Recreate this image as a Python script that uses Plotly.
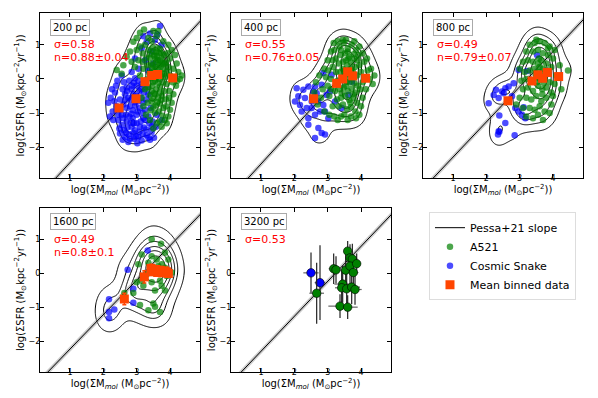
import numpy as np
import plotly.graph_objects as go

# ---- panel labels / fit results -------------------------------------------
res_labels = ["200 pc", "400 pc", "800 pc", "1600 pc", "3200 pc"]
sigma_labels = ["σ=0.58", "σ=0.55", "σ=0.49", "σ=0.49", "σ=0.53"]
n_labels = ["n=0.88±0.04", "n=0.76±0.05", "n=0.79±0.07", "n=0.8±0.1", None]

# Pessa+21 relation as drawn in each panel
pessa_slope = [1.06, 1.07, 1.03, 1.015, 1.03]
pessa_intercept = [-3.51, -3.56, -3.32, -3.24, -3.32]
pessa_band = 0.08

# ---- 200 pc ---------------------------------------------------------------
snake_200 = [
    (2.62, -0.10), (2.70, -0.25), (2.78, -0.05), (2.85, -0.30), (2.92, -0.12), (3.00, -0.20),
    (3.08, -0.35), (3.15, -0.15), (3.22, -0.40), (2.65, -0.45), (2.75, -0.55), (2.83, -0.62),
    (2.90, -0.45), (2.98, -0.50), (3.05, -0.65), (3.12, -0.55), (3.20, -0.70), (3.28, -0.60),
    (2.60, -0.75), (2.70, -0.85), (2.80, -0.80), (2.88, -0.92), (2.96, -0.78), (3.03, -0.95),
    (3.10, -0.85), (3.18, -1.00), (3.25, -0.90), (2.68, -1.05), (2.78, -1.10), (2.86, -0.20),
    (2.95, 0.02), (3.05, -0.05), (2.72, -0.35), (2.94, -0.68), (3.14, -0.30), (3.00, -1.05),
    (2.58, -0.30), (2.84, -1.02), (3.30, -0.25), (2.66, -0.62),
    (2.45, -1.20), (2.55, -1.35), (2.62, -1.50), (2.70, -1.25), (2.78, -1.62), (2.85, -1.40),
    (2.92, -1.75), (3.00, -1.30), (3.08, -1.55), (3.15, -1.80), (3.22, -1.42), (3.30, -1.65),
    (3.38, -1.30), (3.45, -1.55), (3.52, -1.72), (2.50, -1.60), (2.58, -1.78), (2.75, -1.85),
    (2.95, -1.50), (3.05, -1.70), (3.25, -1.20), (3.40, -1.78), (3.58, -1.40), (2.88, -1.15),
    (3.12, -1.25), (2.66, -1.70), (3.35, -1.10), (3.48, -1.25), (3.02, -1.88), (2.48, -1.45),
    (2.60, -1.15), (2.72, -1.42), (2.82, -1.28), (2.90, -1.58), (2.98, -1.68), (3.10, -1.40),
    (3.18, -1.62), (3.28, -1.48), (3.35, -1.72), (2.68, -1.58), (2.55, -1.05), (3.20, -1.15),
    (2.92, -1.30), (3.45, -1.40), (2.80, -1.75),
    (2.15, -0.70), (2.22, -0.55), (2.28, -0.95), (2.35, -0.40), (2.40, -0.80), (2.45, -1.05),
    (2.30, -1.20), (2.20, -1.10), (2.50, -0.60), (2.38, -0.20), (2.52, -0.90), (2.26, -0.30),
    (2.42, -0.05), (2.55, 0.10), (2.33, -0.65),
    (3.40, 1.33), (3.70, 1.55), (3.30, 1.09), (3.55, 1.14), (3.15, 0.90), (2.95, 0.60),
    (3.25, 0.55), (3.45, 0.80), (3.62, 1.30), (3.05, 0.30), (3.35, 0.25), (2.85, 0.20),
    (3.50, 0.45), (3.20, 1.25), (3.75, 1.00),
    (3.42, -0.85), (3.60, -1.05), (3.35, -0.45), (3.75, -1.20),
]
a521_200 = [
    (3.36, 0.85), (3.48, 0.92), (3.58, 0.78), (3.70, 0.88), (3.82, 0.70), (3.40, 0.62),
    (3.52, 0.68), (3.63, 0.55), (3.75, 0.60), (3.88, 0.48), (3.33, 0.40), (3.45, 0.45),
    (3.57, 0.35), (3.68, 0.42), (3.80, 0.30), (3.92, 0.22), (3.38, 0.18), (3.50, 0.22),
    (3.61, 0.15), (3.72, 0.20), (3.85, 0.05), (3.30, -0.02), (3.43, 0.02), (3.55, -0.05),
    (3.66, 0.00), (3.78, -0.10), (3.90, -0.15), (3.35, -0.25), (3.47, -0.20), (3.59, -0.30),
    (3.70, -0.22), (3.82, -0.35), (3.40, -0.48), (3.52, -0.42), (3.64, -0.55), (3.76, -0.50),
    (3.88, -0.60), (3.33, -0.70), (3.45, -0.65), (3.57, -0.78), (3.69, -0.72), (3.80, -0.85),
    (3.42, -0.92), (3.55, -1.00), (3.67, -0.95), (3.78, -1.08), (3.60, 0.68), (3.47, 0.30),
    (3.73, 0.38), (3.64, -0.12), (3.53, 0.10), (3.70, -0.40), (3.45, -0.35), (3.58, 0.50),
    (3.85, 0.45), (3.62, 0.30), (3.50, -0.58), (3.75, 0.08), (3.40, 0.72), (3.68, 0.75),
    (3.50, 0.80), (3.62, 0.90), (3.74, 0.75), (3.56, 0.60), (3.70, 0.55), (3.48, 0.40),
    (3.78, 0.45), (3.60, 0.05), (3.70, 0.12), (3.48, -0.10), (3.82, 0.15), (3.56, -0.45),
    (3.62, -0.68), (3.74, -0.62), (3.50, -0.82),
    (2.40, 0.26), (2.60, 0.40), (2.80, 0.80), (2.90, 1.09), (3.00, 1.20), (3.10, 1.35),
    (3.22, 1.45), (3.35, 1.20), (3.50, 1.40), (3.60, 1.25), (3.80, 1.10), (3.95, 1.00),
    (4.05, 0.85), (4.15, 0.70), (4.20, 0.45), (4.25, 0.20), (4.30, 0.00), (4.18, -0.20),
    (4.10, -0.45), (4.05, -0.70), (4.00, -0.90), (3.95, -1.10), (3.90, -1.30), (3.75, -1.40),
    (3.60, -1.30), (3.50, -1.45), (3.40, -1.20), (3.28, -1.05), (3.20, -0.80), (3.15, -0.55),
    (3.10, 0.10), (3.05, 0.55), (3.18, 0.75), (3.25, 1.00), (2.70, 0.65), (2.95, 0.35),
    (3.00, 0.85), (4.00, 0.60), (4.10, 0.30), (4.00, 0.10), (4.08, -0.10), (3.98, -0.35),
    (3.95, 0.35), (3.92, 0.75), (3.88, -0.80), (3.85, -1.20), (3.20, 0.30), (3.25, -0.30),
    (3.18, 0.50), (4.22, -0.05), (4.35, 0.10), (3.65, 1.40), (3.45, 1.10), (3.28, 0.60),
    (2.85, 0.50), (3.10, 0.95), (4.12, 0.05), (3.98, -0.55), (3.70, -1.25), (2.55, 0.15),
]
mean_200 = [(2.47, -0.85), (2.98, -0.58), (3.25, -0.08), (3.45, 0.10), (3.63, 0.13), (4.08, 0.03)]
mean_200_err = [0.05, 0.04, 0.03, 0.03, 0.03, 0.05]

# ---- 400 pc ---------------------------------------------------------------
snake_400 = [
    (2.07, -0.27), (2.12, -0.51), (2.27, -0.32), (2.42, -0.22), (2.52, -0.66), (2.37, -0.85),
    (2.22, -0.95), (2.42, -1.15), (2.62, -1.05), (2.77, -0.95), (2.87, -0.76), (2.72, -1.44),
    (2.82, -1.58), (2.62, -1.73), (2.92, -1.63), (3.02, -1.15), (2.97, -0.47), (2.82, -0.17),
    (2.67, -0.42), (2.32, -0.56), (2.57, -0.37), (2.87, 0.17), (3.12, 0.12), (3.22, -0.66),
    (3.42, -0.85), (3.62, -0.47), (3.72, -0.08), (2.42, -1.34), (2.72, -0.66), (2.92, -0.95),
    (2.17, -0.76), (2.02, -0.66), (2.52, -0.85), (3.07, -0.37), (2.62, -0.22),
]
a521_400 = [
    (3.35, 0.95), (3.48, 1.05), (3.60, 0.90), (3.72, 1.00), (3.85, 0.85), (3.40, 0.70),
    (3.52, 0.75), (3.65, 0.65), (3.78, 0.72), (3.90, 0.55), (3.33, 0.45), (3.46, 0.50),
    (3.58, 0.40), (3.70, 0.48), (3.82, 0.35), (3.38, 0.20), (3.50, 0.25), (3.63, 0.15),
    (3.75, 0.22), (3.88, 0.10), (3.30, -0.05), (3.43, 0.00), (3.56, -0.08), (3.68, 0.02),
    (3.80, -0.12), (3.36, -0.30), (3.48, -0.25), (3.60, -0.35), (3.72, -0.28), (3.85, -0.40),
    (3.40, -0.55), (3.53, -0.50), (3.65, -0.62), (3.78, -0.55), (3.33, -0.80), (3.46, -0.75),
    (3.58, -0.88), (3.70, -0.82), (3.83, -0.95), (3.50, -1.05), (3.62, 0.60), (3.45, 0.30),
    (3.70, 0.30), (3.55, -0.20), (3.65, -0.10), (3.52, 0.10), (3.75, -0.45), (3.42, -0.42),
    (3.60, 0.80), (3.80, 0.60), (3.40, 0.85), (3.68, -0.70), (3.55, 0.55), (3.90, -0.20),
    (3.25, 0.20),
    (2.65, -0.10), (2.75, 0.10), (2.85, -0.30), (2.90, 0.30), (3.00, 0.55), (3.05, -0.50),
    (3.10, 0.80), (3.15, -0.80), (3.18, 1.05), (3.20, -1.10), (3.25, 0.60), (3.28, -0.60),
    (3.10, 0.00), (3.00, -0.20), (3.15, 0.35), (3.95, 0.95), (4.05, 0.75), (4.10, 0.50),
    (4.20, 0.25), (4.25, 0.00), (4.35, -0.15), (4.15, -0.30), (4.05, -0.55), (4.00, -0.80),
    (3.95, -1.05), (3.85, -1.15), (3.70, -1.10), (3.60, -1.20), (3.40, -1.10), (3.30, -1.20),
    (4.00, 0.20), (4.10, 0.05), (3.98, -0.30), (3.95, 0.40), (4.30, 0.30), (4.40, 0.10),
    (3.92, 0.70), (3.80, 1.10), (3.55, 1.15), (3.45, 1.15), (3.30, 1.10), (3.20, 0.85),
    (2.95, 0.05), (2.80, -0.55), (2.70, -0.75), (2.90, -0.95), (3.05, -1.05), (2.60, -0.40),
    (3.10, -0.30), (3.22, -0.35), (3.15, 0.55), (4.05, -0.10), (4.18, 0.60), (3.88, -0.70),
    (3.02, 0.25),
]
mean_400 = [(2.58, -0.58), (3.27, -0.13), (3.45, 0.00), (3.60, 0.21), (3.75, 0.09), (4.14, 0.02)]
mean_400_err = [0.06, 0.04, 0.03, 0.03, 0.03, 0.05]

# ---- 800 pc ---------------------------------------------------------------
snake_800 = [
    (2.97, 0.26), (3.22, 0.23), (3.52, 0.70), (2.82, -0.13), (2.67, -0.22), (2.57, -0.27),
    (2.47, -0.37), (2.29, -0.32), (2.22, -0.47), (2.37, -0.56), (2.52, -0.42), (2.07, -0.71),
    (2.77, -0.51), (2.87, -0.85), (2.97, -0.95), (3.07, -1.05), (3.17, -1.15), (2.39, -1.07),
    (2.57, -1.29), (2.37, -1.53), (2.35, -1.63), (2.39, -1.55), (2.85, -1.65), (3.12, -0.83),
]
a521_800 = [
    (3.30, 1.00), (3.45, 1.05), (3.60, 1.10), (3.75, 1.05), (3.90, 0.95), (4.05, 0.85),
    (3.20, 0.80), (3.40, 0.80), (3.55, 0.85), (3.70, 0.75), (3.85, 0.70), (4.00, 0.60),
    (4.20, 0.40), (4.45, 0.25), (3.10, 0.50), (3.25, 0.55), (3.40, 0.50), (3.55, 0.45),
    (3.65, 0.55), (3.80, 0.45), (3.95, 0.35), (3.15, 0.20), (3.30, 0.25), (3.45, 0.30),
    (3.58, 0.20), (3.70, 0.30), (3.85, 0.15), (4.10, 0.10), (3.05, -0.05), (3.20, 0.00),
    (3.35, -0.05), (3.50, 0.05), (3.62, -0.02), (3.75, 0.08), (3.90, -0.10), (4.05, -0.15),
    (3.10, -0.30), (3.25, -0.25), (3.40, -0.35), (3.55, -0.20), (3.68, -0.30), (3.80, -0.25),
    (3.95, -0.40), (3.00, -0.55), (3.20, -0.55), (3.35, -0.60), (3.50, -0.50), (3.65, -0.65),
    (3.80, -0.55), (3.95, -0.75), (3.10, -0.85), (3.30, -0.85), (3.45, -0.90), (3.60, -0.80),
    (3.75, -0.95), (3.90, -1.00), (3.20, -1.10), (3.40, -1.15), (3.55, -1.05), (3.70, -1.20),
    (2.90, -0.75), (3.60, 0.35), (3.66, 0.15), (3.52, -0.10), (3.72, -0.12), (3.62, 0.02),
    (3.78, 0.25), (3.48, 0.15), (3.68, -0.45), (3.58, 0.60), (4.25, -0.30), (4.00, -0.50),
    (3.00, 0.30), (3.85, 0.90), (3.50, 1.15),
]
mean_800 = [(2.65, -0.64), (3.37, -0.06), (3.55, 0.12), (3.69, 0.02), (3.83, 0.19), (4.17, 0.07)]
mean_800_err = [0.08, 0.05, 0.04, 0.04, 0.04, 0.05]

# ---- 1600 pc --------------------------------------------------------------
snake_1600 = [
    (2.73, 0.11), (3.33, 0.68), (2.90, -0.45), (2.17, -0.76), (2.17, -1.13), (2.33, -1.06),
    (2.17, -1.32), (2.90, -0.86),
]
a521_1600 = [
    (3.45, 1.01), (3.73, 0.88), (3.15, 0.56), (3.45, 0.51), (3.85, 0.61), (3.60, 0.41),
    (3.95, 0.41), (3.35, 0.32), (3.75, 0.27), (3.05, 0.27), (3.85, 0.17), (3.55, 0.08),
    (3.30, -0.02), (4.05, 0.03), (3.15, -0.21), (3.45, -0.26), (3.75, -0.36), (3.00, -0.26),
    (3.85, -0.50), (3.55, -0.50), (3.10, -0.93), (3.50, -0.88), (3.35, -1.08), (3.70, -1.13),
    (3.55, -0.98), (2.90, -0.57), (2.63, -0.57), (3.90, -0.07), (3.70, -0.21), (3.20, -0.36),
    (3.40, 0.17), (3.65, 0.22),
]
mean_1600 = [
    (2.63, -0.75), (3.23, -0.10), (3.43, 0.15), (3.50, 0.05), (3.57, 0.12), (3.63, 0.03),
    (3.70, 0.10), (3.77, 0.02), (3.83, 0.08), (3.90, 0.05), (3.95, 0.00),
]
mean_1600_err = [0.17, 0.18, 0.12, 0.1, 0.1, 0.1, 0.1, 0.1, 0.1, 0.1, 0.1]

# ---- 3200 pc --------------------------------------------------------------
snake_3200 = [(2.50, 0.02), (2.77, -0.27)]
snake_3200_xerr = [0.23, 0.16]
snake_3200_yerr = [0.60, 1.10]
a521_3200 = [
    (2.67, -0.58), (3.18, 0.14), (3.25, 0.11), (3.54, 0.10), (3.60, 0.66), (3.67, 0.46),
    (3.74, 0.43), (3.67, 0.22), (3.77, 0.03), (3.87, 0.29), (3.45, -0.31), (3.42, -0.42),
    (3.57, -0.45), (3.72, -0.40), (3.82, -0.47), (3.37, -0.96), (3.60, -0.99),
]
a521_3200_xerr = [0.22, 0.15, 0.12, 0.20, 0.10, 0.12, 0.15, 0.18, 0.15, 0.12, 0.25, 0.20,
                  0.22, 0.25, 0.20, 0.35, 0.30]
a521_3200_yerr = [0.90, 0.45, 0.40, 0.45, 0.30, 0.40, 0.45, 0.50, 0.40, 0.30, 0.55, 0.50,
                  0.55, 0.50, 0.45, 0.35, 0.35]

snakes = [snake_200, snake_400, snake_800, snake_1600, snake_3200]
a521s = [a521_200, a521_400, a521_800, a521_1600, a521_3200]
means = [mean_200, mean_400, mean_800, mean_1600, None]
mean_errs = [mean_200_err, mean_400_err, mean_800_err, mean_1600_err, None]
kde_bw = [0.8, 0.8, 0.85, 0.95]

X_RANGE = [0.1, 4.9]
Y_RANGE = [-2.9, 1.93]

GREEN = "rgba(0,128,0,0.7)"
BLUE = "rgba(0,0,255,0.7)"
ORANGE = "#ff4500"

x_domains = [[0.0535, 0.3211], [0.3729, 0.6405], [0.694, 0.9615], [0.0535, 0.3211], [0.3729, 0.6405]]
y_domains = [[0.5729, 0.9874], [0.5729, 0.9874], [0.5729, 0.9874], [0.0854, 0.4975], [0.0854, 0.4975]]


def kde_field(points, bw_adjust):
    # gaussian kde turned into an iso-proportion field (seaborn-style levels)
    pts = np.array(points)
    gx = np.linspace(X_RANGE[0], X_RANGE[1], 160)
    gy = np.linspace(Y_RANGE[0], Y_RANGE[1], 160)
    f = len(pts) ** (-1 / 6) * bw_adjust
    hx = pts[:, 0].std() * f
    hy = pts[:, 1].std() * f
    XX, YY = np.meshgrid(gx, gy)
    z = np.zeros_like(XX)
    for px, py in pts:
        z += np.exp(-0.5 * (((XX - px) / hx) ** 2 + ((YY - py) / hy) ** 2))
    flat = z.ravel()
    order = np.argsort(flat)
    cum = np.cumsum(flat[order])
    cum /= cum[-1]
    q = np.empty_like(flat)
    q[order] = cum
    return gx, gy, q.reshape(z.shape)


fig = go.Figure()
annotations = []
layout_axes = {}

for i in range(5):
    sfx = "" if i == 0 else str(i + 1)
    xa, ya = "x" + sfx, "y" + sfx
    first = i == 0

    # Pessa+21 line with uncertainty band
    lx = np.array([0.0, 5.0])
    ly = pessa_slope[i] * lx + pessa_intercept[i]
    fig.add_trace(go.Scatter(x=lx, y=ly - pessa_band, mode="lines", line=dict(width=0),
                             showlegend=False, hoverinfo="skip", xaxis=xa, yaxis=ya))
    fig.add_trace(go.Scatter(x=lx, y=ly + pessa_band, mode="lines", line=dict(width=0),
                             fill="tonexty", fillcolor="rgba(150,150,150,0.5)",
                             showlegend=False, hoverinfo="skip", xaxis=xa, yaxis=ya))
    fig.add_trace(go.Scatter(x=lx, y=ly, mode="lines", line=dict(color="black", width=1),
                             name="Pessa+21 slope", showlegend=first, legendrank=1,
                             xaxis=xa, yaxis=ya))

    sx, sy = zip(*snakes[i])
    ax_, ay_ = zip(*a521s[i])
    if i < 4:
        fig.add_trace(go.Scatter(x=sx, y=sy, mode="markers", name="Cosmic Snake",
                                 marker=dict(color=BLUE, size=6.5), showlegend=first,
                                 legendrank=3, xaxis=xa, yaxis=ya))
        fig.add_trace(go.Scatter(x=ax_, y=ay_, mode="markers", name="A521",
                                 marker=dict(color=GREEN, size=6.5), showlegend=first,
                                 legendrank=2, xaxis=xa, yaxis=ya))
        gx, gy, q = kde_field(list(snakes[i]) + list(a521s[i]), kde_bw[i])
        fig.add_trace(go.Contour(x=gx, y=gy, z=q, autocontour=False,
                                 contours=dict(start=0.05, end=0.86, size=0.16, coloring="none"),
                                 line=dict(color="black", width=1, smoothing=1),
                                 showscale=False, hoverinfo="skip", showlegend=False,
                                 xaxis=xa, yaxis=ya))
        mx, my = zip(*means[i])
        fig.add_trace(go.Scatter(x=mx, y=my, mode="markers", name="Mean binned data",
                                 marker=dict(color=ORANGE, size=9, symbol="square"),
                                 error_y=dict(type="data", array=mean_errs[i], color=ORANGE,
                                              thickness=1.5, width=2),
                                 showlegend=first, legendrank=4, xaxis=xa, yaxis=ya))
    else:
        fig.add_trace(go.Scatter(x=sx, y=sy, mode="markers", showlegend=False,
                                 marker=dict(color="blue", size=8.5, line=dict(color="black", width=0.6)),
                                 error_x=dict(type="data", array=snake_3200_xerr, color="#666666",
                                              thickness=1.2, width=0),
                                 error_y=dict(type="data", array=snake_3200_yerr, color="#222222",
                                              thickness=1.2, width=0),
                                 xaxis=xa, yaxis=ya))
        fig.add_trace(go.Scatter(x=ax_, y=ay_, mode="markers", showlegend=False,
                                 marker=dict(color="green", size=8.5, line=dict(color="black", width=0.6)),
                                 error_x=dict(type="data", array=a521_3200_xerr, color="#666666",
                                              thickness=1.2, width=0),
                                 error_y=dict(type="data", array=a521_3200_yerr, color="#222222",
                                              thickness=1.2, width=0),
                                 xaxis=xa, yaxis=ya))

    axis_common = dict(showgrid=False, zeroline=False, showline=True, mirror="ticks",
                       linecolor="black", linewidth=1, ticks="inside", ticklen=4,
                       tickcolor="black", tickfont=dict(size=8, color="black"))
    layout_axes["xaxis" + sfx] = dict(
        axis_common, domain=x_domains[i], range=X_RANGE, anchor=ya,
        tickvals=[1, 2, 3, 4], ticklabelstandoff=-8,
        title=dict(text="log(ΣM<sub><i>mol</i></sub> (M<sub>⊙</sub>pc<sup>−2</sup>))",
                   font=dict(size=10, color="black"), standoff=0))
    layout_axes["yaxis" + sfx] = dict(
        axis_common, domain=y_domains[i], range=Y_RANGE, anchor=xa,
        tickvals=[-2, -1, 0, 1], ticklabelstandoff=-3,
        title=dict(text="log(ΣSFR (M<sub>⊙</sub>kpc<sup>−2</sup>yr<sup>−1</sup>))",
                   font=dict(size=10, color="black"), standoff=2))

    dref_x = xa + " domain"
    dref_y = ya + " domain"
    annotations.append(dict(text=res_labels[i], xref=dref_x, yref=dref_y, x=0.06, y=0.915,
                            xanchor="left", yanchor="middle", showarrow=False,
                            font=dict(size=10, color="black"), bgcolor="white",
                            bordercolor="#aaaaaa", borderwidth=1, borderpad=2))
    annotations.append(dict(text=sigma_labels[i], xref=dref_x, yref=dref_y, x=0.075, y=0.81,
                            xanchor="left", yanchor="middle", showarrow=False,
                            font=dict(size=11, color="red")))
    if n_labels[i]:
        annotations.append(dict(text=n_labels[i], xref=dref_x, yref=dref_y, x=0.075, y=0.73,
                                xanchor="left", yanchor="middle", showarrow=False,
                                font=dict(size=11, color="red")))

fig.update_layout(
    width=598, height=398,
    margin=dict(l=0, r=0, t=0, b=0),
    plot_bgcolor="white", paper_bgcolor="white",
    font=dict(family="DejaVu Sans", color="black"),
    annotations=annotations,
    legend=dict(x=0.704, y=0.487, xanchor="left", yanchor="top", traceorder="normal",
                bordercolor="#dddddd", borderwidth=1, bgcolor="white",
                font=dict(size=11), tracegroupgap=0),
    **layout_axes,
)

fig.write_html("out.html")
